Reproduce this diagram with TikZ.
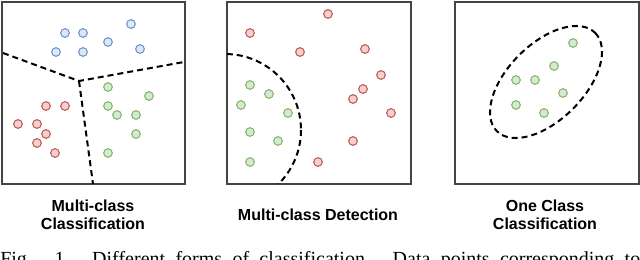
\documentclass[tikz,border=0pt]{standalone}
\usepackage{fontspec}
\setmainfont{Liberation Serif}
\setsansfont{Liberation Sans}
\usetikzlibrary{positioning, calc}
\definecolor{Frame}{HTML}{444444}
\definecolor{BlueFill}{HTML}{DAE8FC}
\definecolor{BlueLine}{HTML}{6C8EBF}
\definecolor{RedFill}{HTML}{F8CECC}
\definecolor{RedLine}{HTML}{B85450}
\definecolor{GreenFill}{HTML}{D5E8D4}
\definecolor{GreenLine}{HTML}{82B366}
\tikzset{
    panel/.style={draw=Frame, line width=1.1pt},
    dot/.style={circle, minimum size=6.5pt, inner sep=0pt, line width=0.75pt},
    bluedot/.style={dot, fill=BlueFill, draw=BlueLine},
    reddot/.style={dot, fill=RedFill, draw=RedLine},
    greendot/.style={dot, fill=GreenFill, draw=GreenLine},
    boundary/.style={black, line width=1.5pt, dash pattern=on 4.5pt off 3pt},
    title/.style={font=\sffamily\bfseries\fontsize{12}{13.5}\selectfont, align=center, inner sep=0pt},
}

\begin{document}
\begin{tikzpicture}[x=0.75pt, y=-0.75pt]
    \useasboundingbox (0,0) rectangle (640,260);

    % Rahmen der drei Felder
    \draw[panel] (2,2) rectangle (185,184);
    \draw[panel] (227,2) rectangle (411,184);
    \draw[panel] (455,2) rectangle (639,184);

    % Feld 1: Grenzen zwischen drei Klassen
    \coordinate (junction) at (79,81);
    \coordinate (leftend) at (3,53);
    \coordinate (rightend) at (184,62);
    \coordinate (bottomend) at (93,184);
    \draw[boundary] (leftend) -- (junction) -- (rightend);
    \draw[boundary] (junction) -- (bottomend);

    \foreach \x/\y [count=\i] in {65/33, 83/33, 131/24, 108/42, 56/52, 83/52, 140/49}
        \node[bluedot] (b\i) at (\x,\y) {};
    \foreach \x/\y [count=\i] in {46/106, 65/106, 18/124, 37/124, 46/134, 37/143, 55/153}
        \node[reddot] (r\i) at (\x,\y) {};
    \foreach \x/\y [count=\i] in {108/87, 149/96, 108/106, 117/115, 136/115, 136/134, 108/153}
        \node[greendot] (g\i) at (\x,\y) {};

    % Feld 2: eine Klasse gegen den Rest
    \begin{scope}
        \clip (227,2) rectangle (411,184);
        \draw[boundary] (225,130) circle (76);
    \end{scope}
    \foreach \x/\y [count=\i] in {328/14, 250/33, 300/52, 365/49, 381/75, 363/89, 353/99, 391/113, 353/141, 318/162}
        \node[reddot] (dr\i) at (\x,\y) {};
    \foreach \x/\y [count=\i] in {250/85, 269/94, 241/105, 288/113, 250/132, 278/141, 250/162}
        \node[greendot] (dg\i) at (\x,\y) {};

    % Feld 3: Ellipse um die eine Klasse
    \draw[boundary, rotate around={45:(546,82)}] (546,82) ellipse (69.5 and 38);
    \foreach \x/\y [count=\i] in {573/43, 554/66, 516/80, 535/80, 563/93, 516/105, 544/113}
        \node[greendot] (og\i) at (\x,\y) {};

    % Beschriftungen
    \node[title, anchor=north] (t1) at (93,200) {Multi-class\\Classification};
    \node[title, anchor=base] (t2) at (318,220) {Multi-class Detection};
    \node[title, anchor=north] (t3) at (545,200) {One Class\\Classification};

    % Bildunterschrift, unten abgeschnitten
    \node[anchor=base west, inner sep=0pt, font=\fontsize{15}{18}\selectfont] (caption) at (0,265)
        {\makebox[480pt][s]{Fig. 1. Different forms of classification. Data points corresponding to}};
\end{tikzpicture}
\end{document}
